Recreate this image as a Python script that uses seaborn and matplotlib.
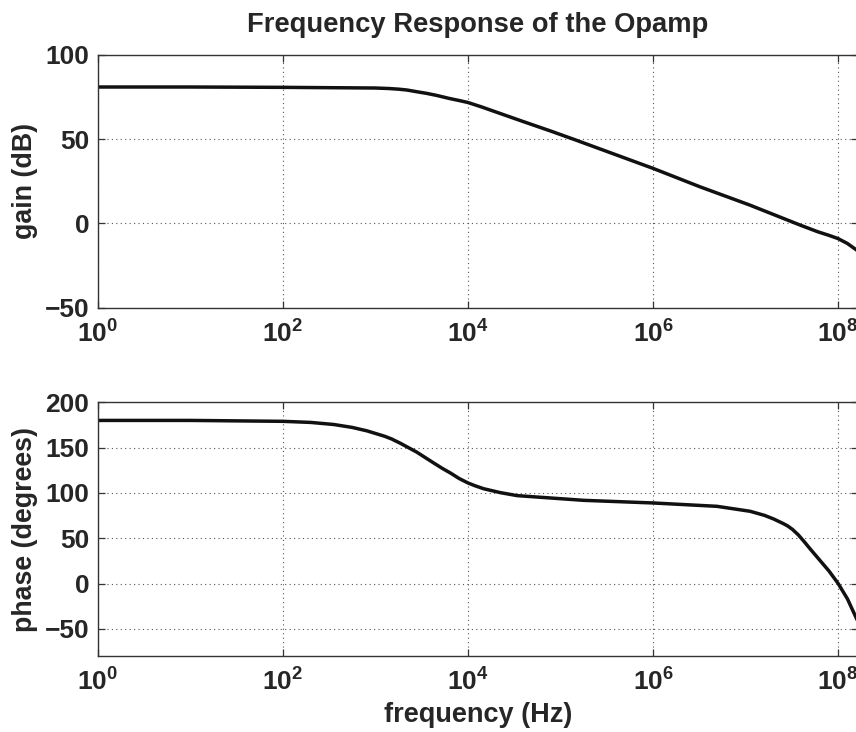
import matplotlib
matplotlib.use("Agg")
import matplotlib.pyplot as plt
import seaborn as sns
from matplotlib.ticker import NullLocator

# Values
freq_gain = [1, 10, 100, 1000, 1400, 1800, 2200, 2800, 3600, 4600, 6300, 8000,
             1e4, 1.4e4, 2.2e4, 4e4, 7.8e4, 1.4e5, 1e6, 3.2e6, 1.1e7, 3.9e7,
             6e7, 8e7, 1e8, 1.26e8, 1.65e8]
gain_db = [81.0, 81.0, 80.8, 80.4, 80.1, 79.7, 79.2, 78.2, 77.2, 76.0, 74.2, 73.0,
           71.8, 69.2, 65.4, 60.4, 54.9, 49.9, 32.7, 21.8, 11.0, -1.0,
           -4.9, -7.1, -9.0, -11.9, -16.5]

freq_phase = [1, 10, 100, 200, 355, 560, 810, 1260, 1500, 1860, 2800, 4270,
              5300, 6460, 8000, 1e4, 1.2e4, 1.48e4, 2.24e4, 3.4e4, 1.78e5, 1e6,
              4.9e6, 1.12e7, 1.6e7, 2e7, 2.57e7, 2.85e7, 3.2e7, 3.7e7, 4.27e7,
              5e7, 6e7, 8e7, 1e8, 1.26e8, 1.65e8]
phase_deg = [180, 180, 179, 177.8, 175.5, 172.3, 168.5, 162.5, 159.5, 154.8, 145, 133,
             127, 122, 116, 111, 107.8, 104.6, 100.3, 97, 91.8, 88.9,
             85.2, 79.7, 75.2, 71.3, 66, 63.5, 59.8, 53.8, 46.5,
             38, 28.5, 13.5, 0, -17, -43]

xticks = [1, 1e2, 1e4, 1e6, 1e8]
xtick_labels = [r"$10^{0}$", r"$10^{2}$", r"$10^{4}$", r"$10^{6}$", r"$10^{8}$"]
gain_ticks = [-50, 0, 50, 100]
phase_ticks = [-50, 0, 50, 100, 150, 200]

sns.set_style("ticks")
plt.rcParams["font.family"] = ["Liberation Sans", "DejaVu Sans"]
plt.rcParams["font.weight"] = "bold"
plt.rcParams["mathtext.fontset"] = "custom"
plt.rcParams["mathtext.rm"] = "Liberation Sans:bold"
plt.rcParams["mathtext.bf"] = "Liberation Sans:bold"
plt.rcParams["mathtext.default"] = "rm"

W, H = 856, 732
fig = plt.figure(figsize=(W / 100, H / 100), dpi=100)

left = 97.7
right = 858.3
ax_g = fig.add_axes([left / W, (H - 307.7) / H, (right - left) / W, 252.7 / H])
ax_p = fig.add_axes([left / W, (H - 656) / H, (right - left) / W, 253.7 / H])

sns.lineplot(x=freq_gain, y=gain_db, ax=ax_g, color="#111111", linewidth=2.5)
sns.lineplot(x=freq_phase, y=phase_deg, ax=ax_p, color="#111111", linewidth=2.5)

for ax, yt, ylim, ylab in [(ax_g, gain_ticks, (-50, 100), "gain (dB)"),
                           (ax_p, phase_ticks, (-80, 200), "phase (degrees)")]:
    ax.set_xscale("log")
    ax.set_xlim(1, 1.65e8)
    ax.set_ylim(*ylim)
    ax.set_xticks(xticks)
    ax.set_xticklabels(xtick_labels)
    ax.xaxis.set_minor_locator(NullLocator())
    ax.set_yticks(yt)
    ax.set_yticklabels([("\u2212" + str(-v)) if v < 0 else str(v) for v in yt])
    ax.tick_params(direction="in", length=5, width=0.9, color="#333333",
                   labelsize=19, top=True, right=True, pad=6)
    ax.tick_params(axis="x", pad=9)
    ax.grid(True, linestyle=(0, (1, 3)), color="#555555", linewidth=0.8)
    for s in ax.spines.values():
        s.set_color("#333333")
        s.set_linewidth(1.0)
    ax.set_ylabel(ylab, fontsize=19.3, fontweight="bold")
    ax.yaxis.set_label_coords((38 - left) / (right - left), 0.5)
    ax.set_xlabel("")

ax_p.set_xlabel("frequency (Hz)", fontsize=19.5, fontweight="bold")
ax_p.xaxis.set_label_coords(0.5, -(715 - 656) / 253.7)
ax_p.xaxis.label.set_va("center")

fig.text((left + right) / 2 / W, 1 - 25 / H, "Frequency Response of the Opamp",
         ha="center", va="center", fontsize=19.7, fontweight="bold")

fig.savefig("out.png", dpi=100)
